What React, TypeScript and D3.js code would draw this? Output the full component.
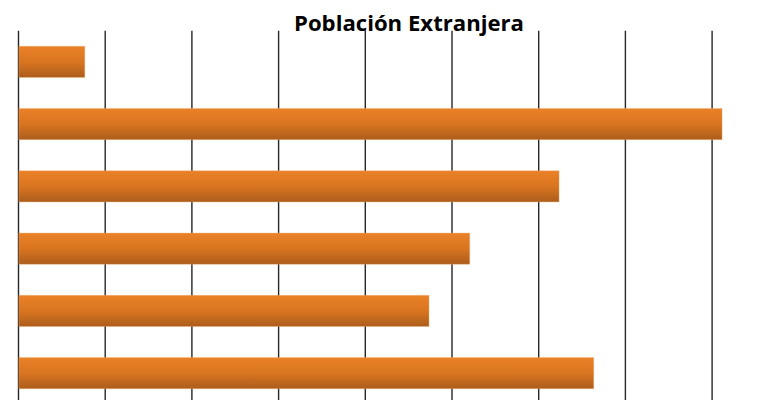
import * as d3 from "d3";
import React from "react";

// categories are not labelled in the picture (the axis labels are cropped away)
const categories = ["c1", "c2", "c3", "c4", "c5", "c6"];
const values = [760, 8110, 6230, 5200, 4730, 6630];
const xTicks = [0, 1000, 2000, 3000, 4000, 5000, 6000, 7000, 8000, 9000];
const title = "Población Extranjera";

export default function App(): React.ReactElement {
  const width = 782;
  const height = 400;
  const plot = { bottom: 404.3, left: 18.5, right: 798.8, top: 30.7 };

  const x = d3.scaleLinear().domain([0, 9000]).range([plot.left, plot.right]);
  const y = d3
    .scaleBand<string>()
    .domain(categories)
    .range([plot.top, plot.bottom])
    .paddingInner(0.5)
    .paddingOuter(0.25);

  return (
    <svg
      height={height}
      style={{ display: "block", left: 0, position: "absolute", top: 0 }}
      width={width}
    >
      <defs>
        <linearGradient id="barFill" x1="0" x2="0" y1="0" y2="1">
          <stop offset="0" stopColor="#EA8127" />
          <stop offset="0.5" stopColor="#D97520" />
          <stop offset="1" stopColor="#AC5D1C" />
        </linearGradient>
      </defs>
      <rect fill="#ffffff" height={height} width={width} />

      {/* vertical gridlines */}
      {xTicks.map((t) => (
        <line
          key={`g-${t}`}
          stroke="#262626"
          strokeWidth={1.4}
          x1={x(t)}
          x2={x(t)}
          y1={plot.top}
          y2={plot.bottom}
        />
      ))}

      {/* bars */}
      {categories.map((c, i) => (
        <rect
          fill="url(#barFill)"
          height={y.bandwidth()}
          key={`b-${c}`}
          stroke="#F2A866"
          strokeOpacity={0.5}
          strokeWidth={0.8}
          width={x(values[i]) - x(0)}
          x={x(0) + 0.4}
          y={y(c)}
        />
      ))}

      <text
        fill="#000000"
        fontFamily="'Open Sans', sans-serif"
        fontSize={22}
        fontWeight="bold"
        lengthAdjust="spacingAndGlyphs"
        textAnchor="middle"
        textLength={230}
        x={409}
        y={31}
      >
        {title}
      </text>
    </svg>
  );
}
